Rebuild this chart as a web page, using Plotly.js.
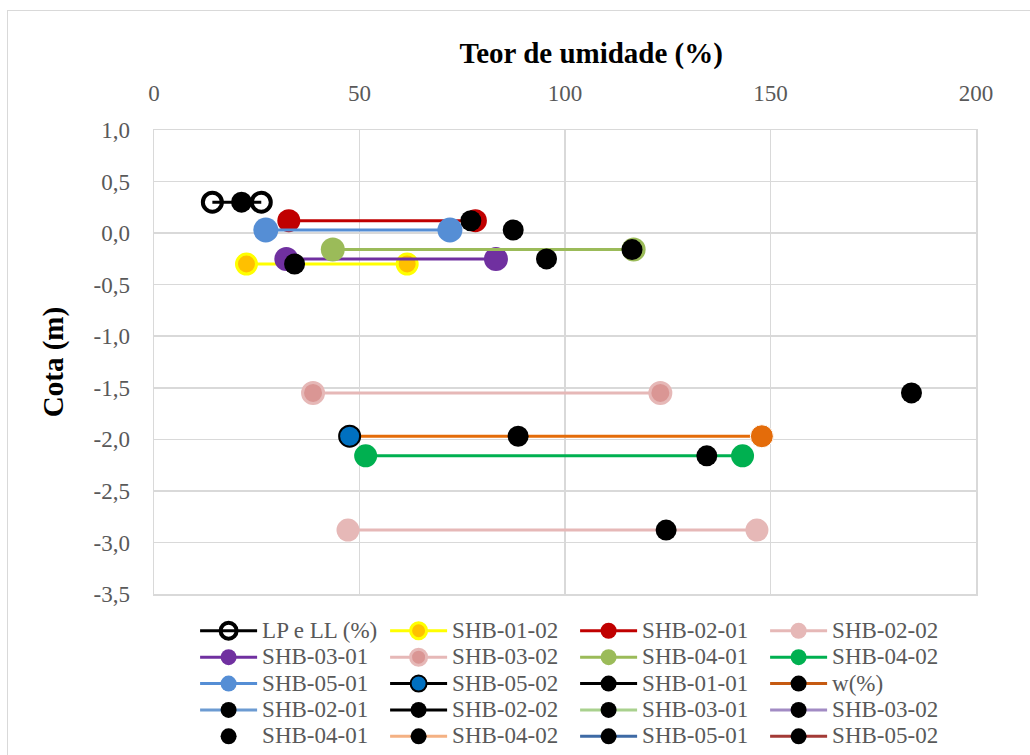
<!DOCTYPE html>
<html>
<head>
<meta charset="utf-8">
<script src="https://cdn.plot.ly/plotly-3.0.1.min.js"></script>
<style>
  html, body { margin: 0; padding: 0; background: #ffffff; }
  #chart { width: 1030px; height: 755px; }
  #frame {
    position: absolute; left: 7px; top: 10px; width: 1100px; height: 800px;
    border-left: 1.5px solid #d9d9d9; border-top: 1.5px solid #d9d9d9;
    pointer-events: none;
  }
</style>
</head>
<body>
<div id="chart"></div>
<div id="frame"></div>
<script>
// Atterberg limits (LP, LL) per sample, in %
const limitNames = ['LP e LL (%)', 'SHB-01-02', 'SHB-02-01', 'SHB-02-02', 'SHB-03-01',
                    'SHB-03-02', 'SHB-04-01', 'SHB-04-02', 'SHB-05-01', 'SHB-05-02'];
const limitLP = [14.2, 22.5, 32.8, 47.2, 32.2, 38.7, 43.5, 51.5, 27.2, 47.6];
const limitLL = [26.1, 61.6, 78.2, 146.7, 83.2, 123.2, 116.7, 143.2, 72.0, 147.9];
const limitCota = [0.30, -0.30, 0.12, -2.88, -0.25, -1.55, -0.16, -2.16, 0.03, -1.97];

// Natural water content w (%) per sample
const wNames = ['SHB-01-01', 'w(%)', 'SHB-02-01', 'SHB-02-02', 'SHB-03-01',
                'SHB-03-02', 'SHB-04-01', 'SHB-04-02', 'SHB-05-01', 'SHB-05-02'];
const wValues = [21.3, 34.2, 77.1, 124.6, 95.5, 184.3, 116.3, 134.5, 87.4, 88.6];
const wCota = [0.30, -0.30, 0.12, -2.88, -0.25, -1.55, -0.16, -2.16, 0.03, -1.97];

// Axis ticks
const xTickValues = [0, 50, 100, 150, 200];
const xTickLabels = ['0', '50', '100', '150', '200'];
const yTickValues = [1.0, 0.5, 0.0, -0.5, -1.0, -1.5, -2.0, -2.5, -3.0, -3.5];
const yTickLabels = ['1,0', '0,5', '0,0', '-0,5', '-1,0', '-1,5', '-2,0', '-2,5', '-3,0', '-3,5'];

// Series styling
const limitStyles = [
  { line: '#000000', symbol: 'circle-open', fill: '#000000', edge: '#000000', edgeW: 4, size: 19 },
  { line: '#FFFF00', symbol: 'circle', fill: '#FFC000', edge: '#FFFF00', edgeW: 3, size: 20 },
  { line: '#C00000', symbol: 'circle', fill: '#C00000', edge: '#C00000', edgeW: 0, size: 23 },
  { line: '#E6B8B7', symbol: 'circle', fill: '#E6B8B7', edge: '#E6B8B7', edgeW: 0, size: 23 },
  { line: '#7030A0', symbol: 'circle', fill: '#7030A0', edge: '#7030A0', edgeW: 0, size: 24 },
  { line: '#E6B8B7', symbol: 'circle', fill: '#DA9694', edge: '#E6B8B7', edgeW: 3, size: 21 },
  { line: '#9BBB59', symbol: 'circle', fill: '#9BBB59', edge: '#9BBB59', edgeW: 0, size: 24 },
  { line: '#00B050', symbol: 'circle', fill: '#00B050', edge: '#00B050', edgeW: 0, size: 23 },
  { line: '#558ED5', symbol: 'circle', fill: '#558ED5', edge: '#558ED5', edgeW: 0, size: 25 },
  { line: '#000000', symbol: 'circle', fill: '#0070C0', edge: '#000000', edgeW: 2, size: 21 }
];
const wLineColors = ['#000000', '#C55A11', '#6C9BD2', '#000000', '#A9D18E',
                     '#A28BC4', null, '#F4B183', '#3E6AA5', '#A33A36'];

const serif = '"Liberation Serif", "Times New Roman", serif';
// legend rows are packed tighter than the label size would normally give
const legendLabel = (name) => '<span style="font-size:23px">' + name + '</span>';
const traces = [];

// SHB-05-02: LP to LL connector drawn in orange beneath its LP marker
const idx0502 = limitNames.indexOf('SHB-05-02');
traces.push({
  x: [limitLP[idx0502], limitLL[idx0502]],
  y: [limitCota[idx0502], limitCota[idx0502]],
  mode: 'lines+markers',
  showlegend: false,
  hoverinfo: 'x+y',
  line: { color: '#E46C0A', width: 3 },
  marker: { symbol: 'circle', color: '#E46C0A', size: [0, 23], opacity: 1 }
});

limitNames.forEach((name, i) => {
  const s = limitStyles[i];
  const xs = i === idx0502 ? [limitLP[i]] : [limitLP[i], limitLL[i]];
  const ys = xs.map(() => limitCota[i]);
  traces.push({
    name: legendLabel(name),
    x: xs,
    y: ys,
    mode: 'lines+markers',
    line: { color: s.line, width: 3 },
    marker: {
      symbol: s.symbol,
      size: s.size,
      color: s.fill,
      opacity: 1,
      line: { color: s.edge, width: s.edgeW }
    }
  });
});

wNames.forEach((name, i) => {
  const lc = wLineColors[i];
  traces.push({
    name: legendLabel(name),
    x: [wValues[i]],
    y: [wCota[i]],
    mode: lc ? 'lines+markers' : 'markers',
    line: { color: lc || '#000000', width: 3 },
    marker: { symbol: 'circle', size: 21, color: '#000000', opacity: 1 }
  });
});

const layout = {
  width: 1030,
  height: 755,
  paper_bgcolor: '#ffffff',
  plot_bgcolor: '#ffffff',
  margin: { l: 154, r: 54, t: 130, b: 161, autoexpand: false },
  separators: ',.',
  font: { family: serif, color: '#595959', size: 23 },
  title: {
    text: 'Teor de umidade (%)',
    font: { family: serif, size: 29, color: '#000000', weight: 'bold' },
    xref: 'container', yref: 'container',
    x: 0.574, xanchor: 'center',
    y: 0.930, yanchor: 'middle'
  },
  xaxis: {
    side: 'top',
    range: [0, 200],
    tickvals: xTickValues,
    ticktext: xTickLabels,
    tickfont: { family: serif, size: 23, color: '#595959' },
    ticks: '',
    ticklabelstandoff: 18,
    showgrid: true,
    gridcolor: '#d9d9d9',
    gridwidth: 1.5,
    zeroline: false,
    showline: true,
    mirror: true,
    linecolor: '#d9d9d9',
    linewidth: 1.5,
    fixedrange: true
  },
  yaxis: {
    range: [-3.5, 1.0],
    tickvals: yTickValues,
    ticktext: yTickLabels,
    tickfont: { family: serif, size: 23, color: '#595959' },
    ticks: '',
    ticklabelstandoff: 18,
    showgrid: true,
    gridcolor: '#d9d9d9',
    gridwidth: 1.5,
    zeroline: false,
    showline: true,
    mirror: true,
    linecolor: '#d9d9d9',
    linewidth: 1.5,
    fixedrange: true,
    title: {
      text: 'Cota (m)',
      font: { family: serif, size: 29, color: '#000000', weight: 'bold' },
      standoff: 21
    }
  },
  showlegend: true,
  legend: {
    orientation: 'h',
    x: 0.05, xanchor: 'left',
    y: -0.04, yanchor: 'top',
    entrywidth: 118,
    itemwidth: 57,
    traceorder: 'normal',
    font: { family: serif, size: 18, color: '#595959' },
    bgcolor: 'rgba(0,0,0,0)'
  }
};

Plotly.newPlot('chart', traces, layout, { displayModeBar: false, staticPlot: true });
</script>
</body>
</html>
